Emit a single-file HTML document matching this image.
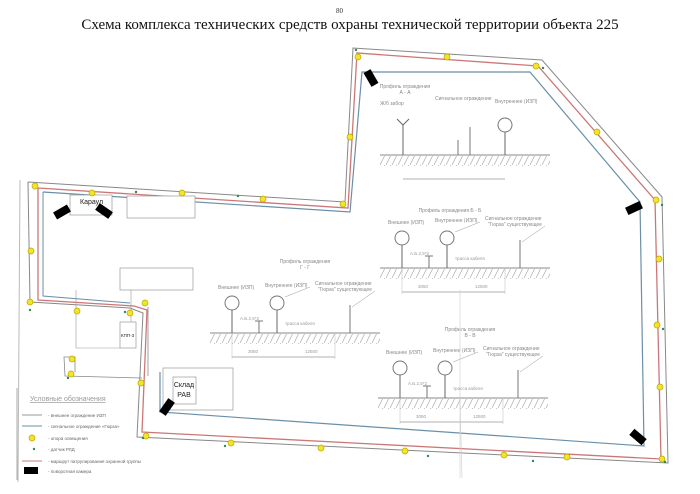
<!DOCTYPE html>
<html><head><meta charset="utf-8"><style>
html,body{margin:0;padding:0;background:#fff;}
svg{display:block;}
text{font-family:"Liberation Sans",sans-serif;}
.t{font-family:"Liberation Serif",serif;}
</style></head><body>
<svg width="700" height="494" viewBox="0 0 700 494" xmlns="http://www.w3.org/2000/svg">
<defs>
<pattern id="h" width="6" height="10" patternUnits="userSpaceOnUse">
<line x1="5" y1="0" x2="0" y2="10" stroke="#aaa" stroke-width="0.7"/>
</pattern>
<g id="prof">
<line x1="0" y1="0" x2="170" y2="0" stroke="#888" stroke-width="1"/>
<rect x="0" y="1" width="170" height="10" fill="url(#h)"/>
<line x1="22" y1="-24" x2="22" y2="0" stroke="#666"/>
<circle cx="22" cy="-30" r="7" fill="#fff" stroke="#777"/>
<line x1="67" y1="-24" x2="67" y2="0" stroke="#666"/>
<circle cx="67" cy="-30" r="7" fill="#fff" stroke="#777"/>
<line x1="49" y1="-12" x2="49" y2="0" stroke="#777"/>
<line x1="45" y1="-12" x2="53" y2="-12" stroke="#777"/>
<line x1="140" y1="-28" x2="140" y2="0" stroke="#777"/>
<line x1="22" y1="24" x2="125" y2="24" stroke="#999" stroke-width="0.7"/>
<line x1="22" y1="0" x2="22" y2="26" stroke="#bbb" stroke-width="0.5"/>
<line x1="125" y1="0" x2="125" y2="26" stroke="#bbb" stroke-width="0.5"/>
<text x="8" y="-44" font-size="5" fill="#888">Внешнее (ИЗП)</text>
<text x="55" y="-46" font-size="5" fill="#888">Внутреннее (ИЗП)</text>
<text x="105" y="-48" font-size="5" fill="#888">Сигнальное ограждение</text>
<text x="108" y="-42" font-size="5" fill="#888">"Гюрза" существующее</text>
<line x1="75" y1="-36" x2="100" y2="-46" stroke="#999" stroke-width="0.5"/>
<line x1="142" y1="-26" x2="165" y2="-42" stroke="#999" stroke-width="0.5"/>
<text x="30" y="-13" font-size="4.5" fill="#999">А.Б.2,5*2</text>
<text x="75" y="-8" font-size="4.5" fill="#999">трасса кабеля</text>
<text x="38" y="20" font-size="4.5" fill="#999">3050</text>
<text x="95" y="20" font-size="4.5" fill="#999">12500</text>
</g>
<g id="cam"><rect x="-8" y="-4" width="16" height="8" fill="#000"/></g>
</defs>

<text x="336" y="13" font-size="7" class="t" fill="#333">80</text>
<text x="350" y="29" font-size="15" class="t" text-anchor="middle" fill="#111">Схема комплекса технических средств охраны технической территории объекта 225</text>

<!-- scan edge -->
<line x1="20" y1="180" x2="18" y2="482" stroke="#bbb" stroke-width="1"/>

<!-- outer fence -->
<polyline points="28,182 345,202 353,48 542,60 662,197 668,463 137,437 143,313 130,308 30,302 28,182" fill="none" stroke="#888" stroke-width="1"/>
<!-- red route -->
<polyline points="38,188 348,208 357,53 538,66 655,200 661,459 142,432 147,310 134,306 38,300 38,188" fill="none" stroke="#c77" stroke-width="1.3"/>
<!-- blue inner -->
<polyline points="43,192 350,212 362,72 530,72 640,202 644,446 160,412 160,372" fill="none" stroke="#6a8fa8" stroke-width="1.2"/>
<polyline points="43,192 43,296 130,303" fill="none" stroke="#6a8fa8" stroke-width="1"/>
<!-- left small wing -->
<polyline points="142,378 65,376 64,357 75,357 75,372" fill="none" stroke="#888" stroke-width="0.8"/>
<line x1="148" y1="307" x2="148" y2="376" stroke="#888" stroke-width="0.8"/>

<!-- buildings -->
<rect x="127" y="196" width="68" height="22" fill="#fff" stroke="#999" stroke-width="0.7"/>
<rect x="70" y="195" width="42" height="20" fill="#fff" stroke="#999" stroke-width="0.7"/>
<text x="80" y="204" font-size="7" fill="#222">Караул</text>
<rect x="120" y="268" width="73" height="22" fill="#fff" stroke="#999" stroke-width="0.7"/>
<line x1="131" y1="290" x2="131" y2="322" stroke="#999" stroke-width="0.6"/>
<polyline points="76,290 76,348 120,348" fill="none" stroke="#999" stroke-width="0.6"/>
<rect x="120" y="322" width="16" height="26" fill="#fff" stroke="#999" stroke-width="0.7"/>
<text x="121" y="337" font-size="4.5" fill="#222">КПП-3</text>
<rect x="163" y="368" width="70" height="42" fill="#fff" stroke="#999" stroke-width="0.7"/>
<rect x="173" y="377" width="23" height="27" fill="#fff" stroke="#888" stroke-width="0.6"/>
<text x="184" y="387" font-size="7" text-anchor="middle" fill="#222">Склад</text>
<text x="184" y="397" font-size="7" text-anchor="middle" fill="#222">РАВ</text>

<!-- cameras -->
<use href="#cam" transform="translate(62,212) rotate(-30)"/>
<use href="#cam" transform="translate(104,211) rotate(35)"/>
<use href="#cam" transform="translate(371,78) rotate(60)"/>
<use href="#cam" transform="translate(634,208) rotate(-25)"/>
<use href="#cam" transform="translate(167,407) rotate(-55)"/>
<use href="#cam" transform="translate(638,437) rotate(40)"/>

<!-- lights -->
<g fill="#f5e32a" stroke="#b8a800" stroke-width="0.7">
<circle cx="35" cy="186" r="3"/><circle cx="92" cy="193" r="3"/><circle cx="182" cy="193" r="3"/>
<circle cx="263" cy="199" r="3"/><circle cx="343" cy="204" r="3"/><circle cx="350" cy="137" r="3"/>
<circle cx="358" cy="57" r="3"/><circle cx="447" cy="57" r="3"/><circle cx="536" cy="66" r="3"/>
<circle cx="597" cy="132" r="3"/><circle cx="656" cy="200" r="3"/><circle cx="659" cy="259" r="3"/>
<circle cx="657" cy="325" r="3"/><circle cx="660" cy="387" r="3"/><circle cx="662" cy="459" r="3"/>
<circle cx="567" cy="457" r="3"/><circle cx="504" cy="455" r="3"/><circle cx="405" cy="451" r="3"/>
<circle cx="321" cy="448" r="3"/><circle cx="231" cy="443" r="3"/><circle cx="146" cy="436" r="3"/>
<circle cx="141" cy="383" r="3"/><circle cx="72" cy="359" r="3"/><circle cx="71" cy="374" r="3"/>
<circle cx="130" cy="313" r="3"/><circle cx="145" cy="303" r="3"/><circle cx="77" cy="311" r="3"/>
<circle cx="30" cy="302" r="3"/><circle cx="31" cy="251" r="3"/>
</g>
<g fill="#2a8a5a">
<circle cx="136" cy="192" r="1.2"/><circle cx="238" cy="196" r="1.2"/><circle cx="356" cy="50" r="1.2"/>
<circle cx="543" cy="68" r="1.2"/><circle cx="662" cy="205" r="1.2"/><circle cx="663" cy="329" r="1.2"/>
<circle cx="665" cy="462" r="1.2"/><circle cx="533" cy="461" r="1.2"/><circle cx="428" cy="456" r="1.2"/>
<circle cx="225" cy="446" r="1.2"/><circle cx="143" cy="438" r="1.2"/><circle cx="68" cy="378" r="1.2"/>
<circle cx="30" cy="310" r="1.2"/><circle cx="125" cy="312" r="1.2"/>
</g>

<!-- profiles -->
<text x="405" y="88" font-size="5" fill="#888" text-anchor="middle">Профиль ограждения</text>
<text x="405" y="94" font-size="5" fill="#888" text-anchor="middle">А - А</text>
<g transform="translate(380,155)">
<line x1="0" y1="0" x2="170" y2="0" stroke="#888"/>
<rect x="0" y="1" width="170" height="10" fill="url(#h)"/>
<line x1="23" y1="-30" x2="23" y2="0" stroke="#666"/><path d="M17,-36 L23,-30 L29,-36" fill="none" stroke="#666"/>
<line x1="90" y1="-28" x2="90" y2="0" stroke="#777"/>
<line x1="78" y1="-15" x2="78" y2="0" stroke="#777"/>
<line x1="125" y1="-24" x2="125" y2="0" stroke="#666"/><circle cx="125" cy="-30" r="7" fill="#fff" stroke="#777"/>
<text x="0" y="-50" font-size="5" fill="#888">Ж/б забор</text>
<text x="55" y="-55" font-size="5" fill="#888">Сигнальное ограждение</text>
<text x="115" y="-52" font-size="5" fill="#888">Внутреннее (ИЗП)</text>
<line x1="23" y1="24" x2="125" y2="24" stroke="#999" stroke-width="0.7"/>
</g>
<text x="450" y="212" font-size="5" fill="#888" text-anchor="middle">Профиль ограждения Б - Б</text>
<use href="#prof" transform="translate(380,268)"/>
<text x="305" y="263" font-size="5" fill="#888" text-anchor="middle">Профиль ограждения</text>
<text x="305" y="269" font-size="5" fill="#888" text-anchor="middle">Г - Г</text>
<use href="#prof" transform="translate(210,333)"/>
<text x="470" y="331" font-size="5" fill="#888" text-anchor="middle">Профиль ограждения</text>
<text x="470" y="337" font-size="5" fill="#888" text-anchor="middle">В - В</text>
<use href="#prof" transform="translate(378,398)"/>
<line x1="460" y1="290" x2="460" y2="478" stroke="#ccc" stroke-width="0.6"/>
<line x1="460" y1="400" x2="462" y2="478" stroke="#ccc" stroke-width="0.6"/>

<!-- legend -->
<text x="30" y="401" font-size="7" fill="#999" text-decoration="underline">Условные обозначения</text>
<g font-size="4.5" fill="#666">
<line x1="22" y1="415" x2="42" y2="415" stroke="#999"/><text x="48" y="417">- внешнее ограждение ИЗП</text>
<line x1="22" y1="426" x2="42" y2="426" stroke="#6a8fa8"/><text x="48" y="428">- сигнальное ограждение «Гюрза»</text>
<circle cx="32" cy="438" r="3" fill="#f5e32a" stroke="#b8a800" stroke-width="0.7"/><text x="48" y="440">- опора освещения</text>
<circle cx="34" cy="449" r="1.2" fill="#2a8a5a"/><text x="48" y="451">- датчик РЛД</text>
<line x1="22" y1="461" x2="42" y2="461" stroke="#c77"/><text x="48" y="463">- маршрут патрулирования охранной группы</text>
<rect x="24" y="467" width="14" height="7" fill="#000"/><text x="48" y="473">- поворотная камера</text>
</g>
<line x1="17" y1="388" x2="17" y2="480" stroke="#aaa"/>
</svg>
</body></html>
